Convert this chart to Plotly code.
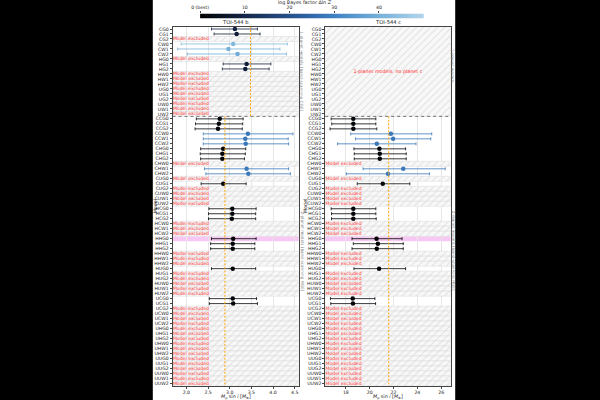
import numpy as np
import plotly.graph_objects as go
from plotly.colors import sample_colorscale

W, H = 600, 400

group1_models = ["CG0", "CG1", "CG2", "CW0", "CW1", "CW2", "HG0", "HG1", "HG2",
                 "HW0", "HW1", "HW2", "UG0", "UG1", "UG2", "UW0", "UW1", "UW2"]
group2_models = ["CCG0", "CCG1", "CCG2", "CCW0", "CCW1", "CCW2",
                 "CHG0", "CHG1", "CHG2", "CHW0", "CHW1", "CHW2",
                 "CUG0", "CUG1", "CUG2", "CUW0", "CUW1", "CUW2",
                 "HCG0", "HCG1", "HCG2", "HCW0", "HCW1", "HCW2",
                 "HHG0", "HHG1", "HHG2", "HHW0", "HHW1", "HHW2",
                 "HUG0", "HUG1", "HUG2", "HUW0", "HUW1", "HUW2",
                 "UCG0", "UCG1", "UCG2", "UCW0", "UCW1", "UCW2",
                 "UHG0", "UHG1", "UHG2", "UHW0", "UHW1", "UHW2",
                 "UUG0", "UUG1", "UUG2", "UUW0", "UUW1", "UUW2"]
models = group1_models + group2_models

# planet b results (models not excluded)
b_models = ["CG0", "CG1", "CW0", "CW1", "CW2", "HG1", "HG2",
            "CCG0", "CCG1", "CCG2", "CCW0", "CCW1", "CCW2",
            "CHG0", "CHG1", "CHG2", "CHW1", "CHW2", "CUG1",
            "HCG0", "HCG1", "HCG2", "HHG0", "HHG1", "HHG2", "HUG0",
            "UCG0", "UCG1"]
dlnz = [9, 7, 42, 40, 39, 8, 8,
        1.5, 1.5, 1.5, 28, 28, 28,
        1, 1, 1, 28, 28, 1.5,
        1, 1, 1, 0, 0.5, 0.5, 1,
        1, 1]
b_med = [3.12, 3.16, 3.08, 2.97, 3.18, 3.39, 3.36,
         2.77, 2.75, 2.73, 3.42, 3.36, 3.37,
         2.85, 2.83, 2.83, 3.39, 3.43, 2.85,
         3.06, 3.06, 3.05, 3.08, 3.07, 3.07, 3.07,
         3.07, 3.08]
b_lo = [2.58, 2.64, 1.88, 1.80, 2.02, 2.85, 2.83,
        2.23, 2.21, 2.20, 2.39, 2.39, 2.39,
        2.33, 2.32, 2.33, 2.42, 2.45, 2.34,
        2.52, 2.51, 2.51, 2.58, 2.56, 2.56, 2.58,
        2.53, 2.53]
b_hi = [3.64, 3.70, 4.33, 4.16, 4.31, 3.95, 3.91,
        3.31, 3.30, 3.29, 4.46, 4.35, 4.36,
        3.37, 3.36, 3.34, 4.36, 4.40, 3.38,
        3.61, 3.60, 3.60, 3.61, 3.58, 3.58, 3.60,
        3.62, 3.64]

# planet c results (2-planet models only)
c_models = ["CCG0", "CCG1", "CCG2", "CCW0", "CCW1", "CCW2",
            "CHG0", "CHG1", "CHG2", "CHW1", "CHW2", "CUG1",
            "HCG0", "HCG1", "HCG2", "HHG0", "HHG1", "HHG2", "HUG0",
            "UCG0", "UCG1"]
c_med = [18.63, 18.63, 18.63, 21.78, 21.97, 20.60,
         20.82, 20.85, 20.85, 22.82, 21.54, 21.10,
         18.63, 18.63, 18.63, 20.58, 20.69, 20.60, 20.79,
         18.58, 18.60]
c_lo = [16.77, 16.82, 16.68, 18.41, 18.82, 17.31,
        18.68, 18.71, 18.71, 19.45, 18.05, 18.96,
        16.77, 16.80, 16.80, 18.52, 18.63, 18.52, 18.68,
        16.71, 16.74]
c_hi = [20.52, 20.52, 20.60, 25.21, 25.13, 23.89,
        23.02, 23.07, 23.07, 26.34, 25.02, 23.37,
        20.52, 20.52, 20.55, 22.72, 22.82, 22.82, 23.02,
        20.44, 20.50]

best_model = "HHG0"
b_ref_1planet = 3.48
b_ref_2planet = 2.89
c_ref = 21.6

b_ticks = [2.0, 2.5, 3.0, 3.5, 4.0, 4.5]
c_ticks = [18, 20, 22, 24, 26]
cb_ticks = [0, 10, 20, 30, 40]
cb_ticktext = ["0 (best)", "10", "20", "30", "40"]

# ---------------------------------------------------------------
BX = [1.68, 4.59]
CX = [16.27, 26.79]
ZMAX = 50
cscale = [[0, "#000000"], [0.2, "#152648"], [0.45, "#2b5c9c"], [0.6, "#3f82c4"],
          [0.8, "#76b0d9"], [1, "#b3d5ea"]]
row = {m: i for i, m in enumerate(models)}
n1 = len(group1_models)
FONT = "DejaVu Sans"
RED = "#ff2a2a"


def colr(v):
    return sample_colorscale(cscale, [v / ZMAX])[0]


fig = go.Figure()

# hatched (excluded) rows
b_excl = [row[m] for m in models if m not in b_models]
c_excl = [row[m] for m in group2_models if m not in c_models]
hatch = dict(shape="/", fgcolor="#c4c4c4", bgcolor="#f8f8f8", size=5, solidity=0.18)
for xa, ya, rows, rng in [("x", "y", b_excl, BX), ("x2", "y2", c_excl, CX)]:
    fig.add_trace(go.Bar(orientation="h", y=rows, x=[rng[1] - rng[0]] * len(rows),
                         base=rng[0], width=1, xaxis=xa, yaxis=ya,
                         marker=dict(color="#f8f8f8", pattern=hatch,
                                     line=dict(color="#d8d8d8", width=0.5)),
                         showlegend=False, hoverinfo="skip"))
    fig.add_trace(go.Scatter(x=[rng[0] + 0.003 * (rng[1] - rng[0])] * len(rows), y=rows,
                             mode="text", text=["Model excluded"] * len(rows),
                             textposition="middle right",
                             textfont=dict(color=RED, size=4.6, family=FONT),
                             xaxis=xa, yaxis=ya, showlegend=False, hoverinfo="skip"))
# 1-planet models block in the c panel
fig.add_trace(go.Bar(orientation="h", y=[(n1 - 1) / 2], x=[CX[1] - CX[0]], base=CX[0],
                     width=n1, xaxis="x2", yaxis="y2",
                     marker=dict(color="#f8f8f8", pattern=hatch,
                                 line=dict(color="#d8d8d8", width=0.5)),
                     showlegend=False, hoverinfo="skip"))
fig.add_trace(go.Scatter(x=[sum(CX) / 2], y=[(n1 - 1) / 2], mode="text",
                         text=["1-planet models, no planet c"],
                         textfont=dict(color=RED, size=4.8, family=FONT),
                         xaxis="x2", yaxis="y2", showlegend=False))

# measurements
for names, med, lo, hi, xa, ya in [(b_models, b_med, b_lo, b_hi, "x", "y"),
                                   (c_models, c_med, c_lo, c_hi, "x2", "y2")]:
    for m, v, l, h in zip(names, med, lo, hi):
        col = colr(dlnz[b_models.index(m)])
        fig.add_trace(go.Scatter(x=[v], y=[row[m]], mode="markers",
                                 marker=dict(color=col, size=4.5),
                                 error_x=dict(type="data", symmetric=False, array=[h - v],
                                              arrayminus=[v - l], color=col,
                                              thickness=0.8, width=1.5),
                                 xaxis=xa, yaxis=ya, showlegend=False))

# colour bar drawn as a strip
zs = np.linspace(0, ZMAX, 201)
fig.add_trace(go.Heatmap(z=[zs], x=zs, y=[0], colorscale=cscale, zmin=0, zmax=ZMAX,
                         showscale=False, xaxis="x3", yaxis="y3", hoverinfo="skip"))

shapes = [dict(type="rect", xref="paper", yref="paper", x0=146 / W, x1=453 / W, y0=0, y1=1,
               fillcolor="white", line=dict(width=0), layer="below")]
for xa, ya in [("x", "y"), ("x2", "y2")]:
    shapes.append(dict(type="rect", xref=xa + " domain", yref=ya, x0=0, x1=1,
                       y0=row[best_model] - 0.5, y1=row[best_model] + 0.5,
                       fillcolor="#f7c8f3", line=dict(width=0), layer="below"))
    shapes.append(dict(type="line", xref=xa + " domain", yref=ya, x0=0, x1=1,
                       y0=n1 - 0.5, y1=n1 - 0.5, line=dict(color="#555", width=0.8, dash="dot")))
odash = dict(color="#ffa500", width=1, dash="2px,1.5px")
shapes.append(dict(type="line", xref="x", yref="y", x0=b_ref_1planet, x1=b_ref_1planet,
                   y0=-0.5, y1=n1 - 0.5, line=odash))
shapes.append(dict(type="line", xref="x", yref="y", x0=b_ref_2planet, x1=b_ref_2planet,
                   y0=n1 - 0.5, y1=len(models) - 0.5, line=odash))
shapes.append(dict(type="line", xref="x2", yref="y2", x0=c_ref, x1=c_ref,
                   y0=n1 - 0.5, y1=len(models) - 0.5, line=odash))

ydom = [1 - 386 / H, 1 - 26.5 / H]
ax_common = dict(showline=True, linecolor="#444", linewidth=0.8, mirror=True,
                 ticks="outside", ticklen=2, tickwidth=0.6, tickcolor="#444",
                 tickfont=dict(size=4.6, family=FONT, color="#222"), zeroline=False)
yax = dict(ax_common, range=[len(models) - 0.5, -0.5], tickmode="array",
           tickvals=list(range(len(models))), ticktext=models, showgrid=False, domain=ydom)

fig.update_layout(
    width=W, height=H, margin=dict(l=0, r=0, t=0, b=0),
    paper_bgcolor="black", plot_bgcolor="white", barmode="overlay",
    font=dict(family=FONT, size=5, color="#222"),
    xaxis=dict(ax_common, domain=[166 / W, 294 / W], range=BX, tickvals=b_ticks,
               ticktext=["%.1f" % t for t in b_ticks], showgrid=True,
               gridcolor="#e6e6e6", gridwidth=0.5, anchor="y"),
    yaxis=dict(yax, anchor="x"),
    xaxis2=dict(ax_common, domain=[321 / W, 448.3 / W], range=CX, tickvals=c_ticks,
                showgrid=True, gridcolor="#e6e6e6", gridwidth=0.5, anchor="y2"),
    yaxis2=dict(yax, anchor="x2"),
    xaxis3=dict(domain=[194 / W, 421 / W], range=[0, ZMAX], side="top", tickvals=cb_ticks,
                ticktext=cb_ticktext, ticks="outside", ticklen=1.5, tickwidth=0.6,
                tickfont=dict(size=4.6, family=FONT, color="#222"), anchor="y3",
                showline=False, showgrid=False, zeroline=False),
    yaxis3=dict(domain=[1 - 18.5 / H, 1 - 13.5 / H], visible=False, anchor="x3"),
    shapes=shapes,
)

ann = []
def A(text, x, y, size=4.8, angle=0, color="#222"):
    ann.append(dict(text=text, x=x / W, y=1 - y / H, xref="paper", yref="paper",
                    showarrow=False, textangle=angle, xanchor="center", yanchor="middle",
                    font=dict(size=size, family=FONT, color=color)))

A("log Bayes factor Δln <i>Z</i>", 300, 3)
A("TOI-544 b", 230, 22, size=5.2)
A("TOI-544 c", 385, 22, size=5.2)
A("<i>M</i><sub>p</sub> sin <i>i</i> [<i>M</i><sub>⊕</sub>]", 230, 397)
A("<i>M</i><sub>p</sub> sin <i>i</i> [<i>M</i><sub>⊕</sub>]", 385, 397)
A("Model", 148.5, 206, angle=-90)
A("Model", 300.5, 206, angle=-90)
A("1-planet models (band-scanning CGE)", 297, 71, size=4.2, angle=90, color="#777")
A("2-planet models (band-scanning HGE)", 297, 251, size=4.2, angle=90, color="#777")
A("1-planet models", 451, 66, size=4.2, angle=90, color="#777")
A("2-planet models (band-scanning HGE)", 451, 251, size=4.2, angle=90, color="#777")
fig.update_layout(annotations=ann)

fig.write_html("out.html")
